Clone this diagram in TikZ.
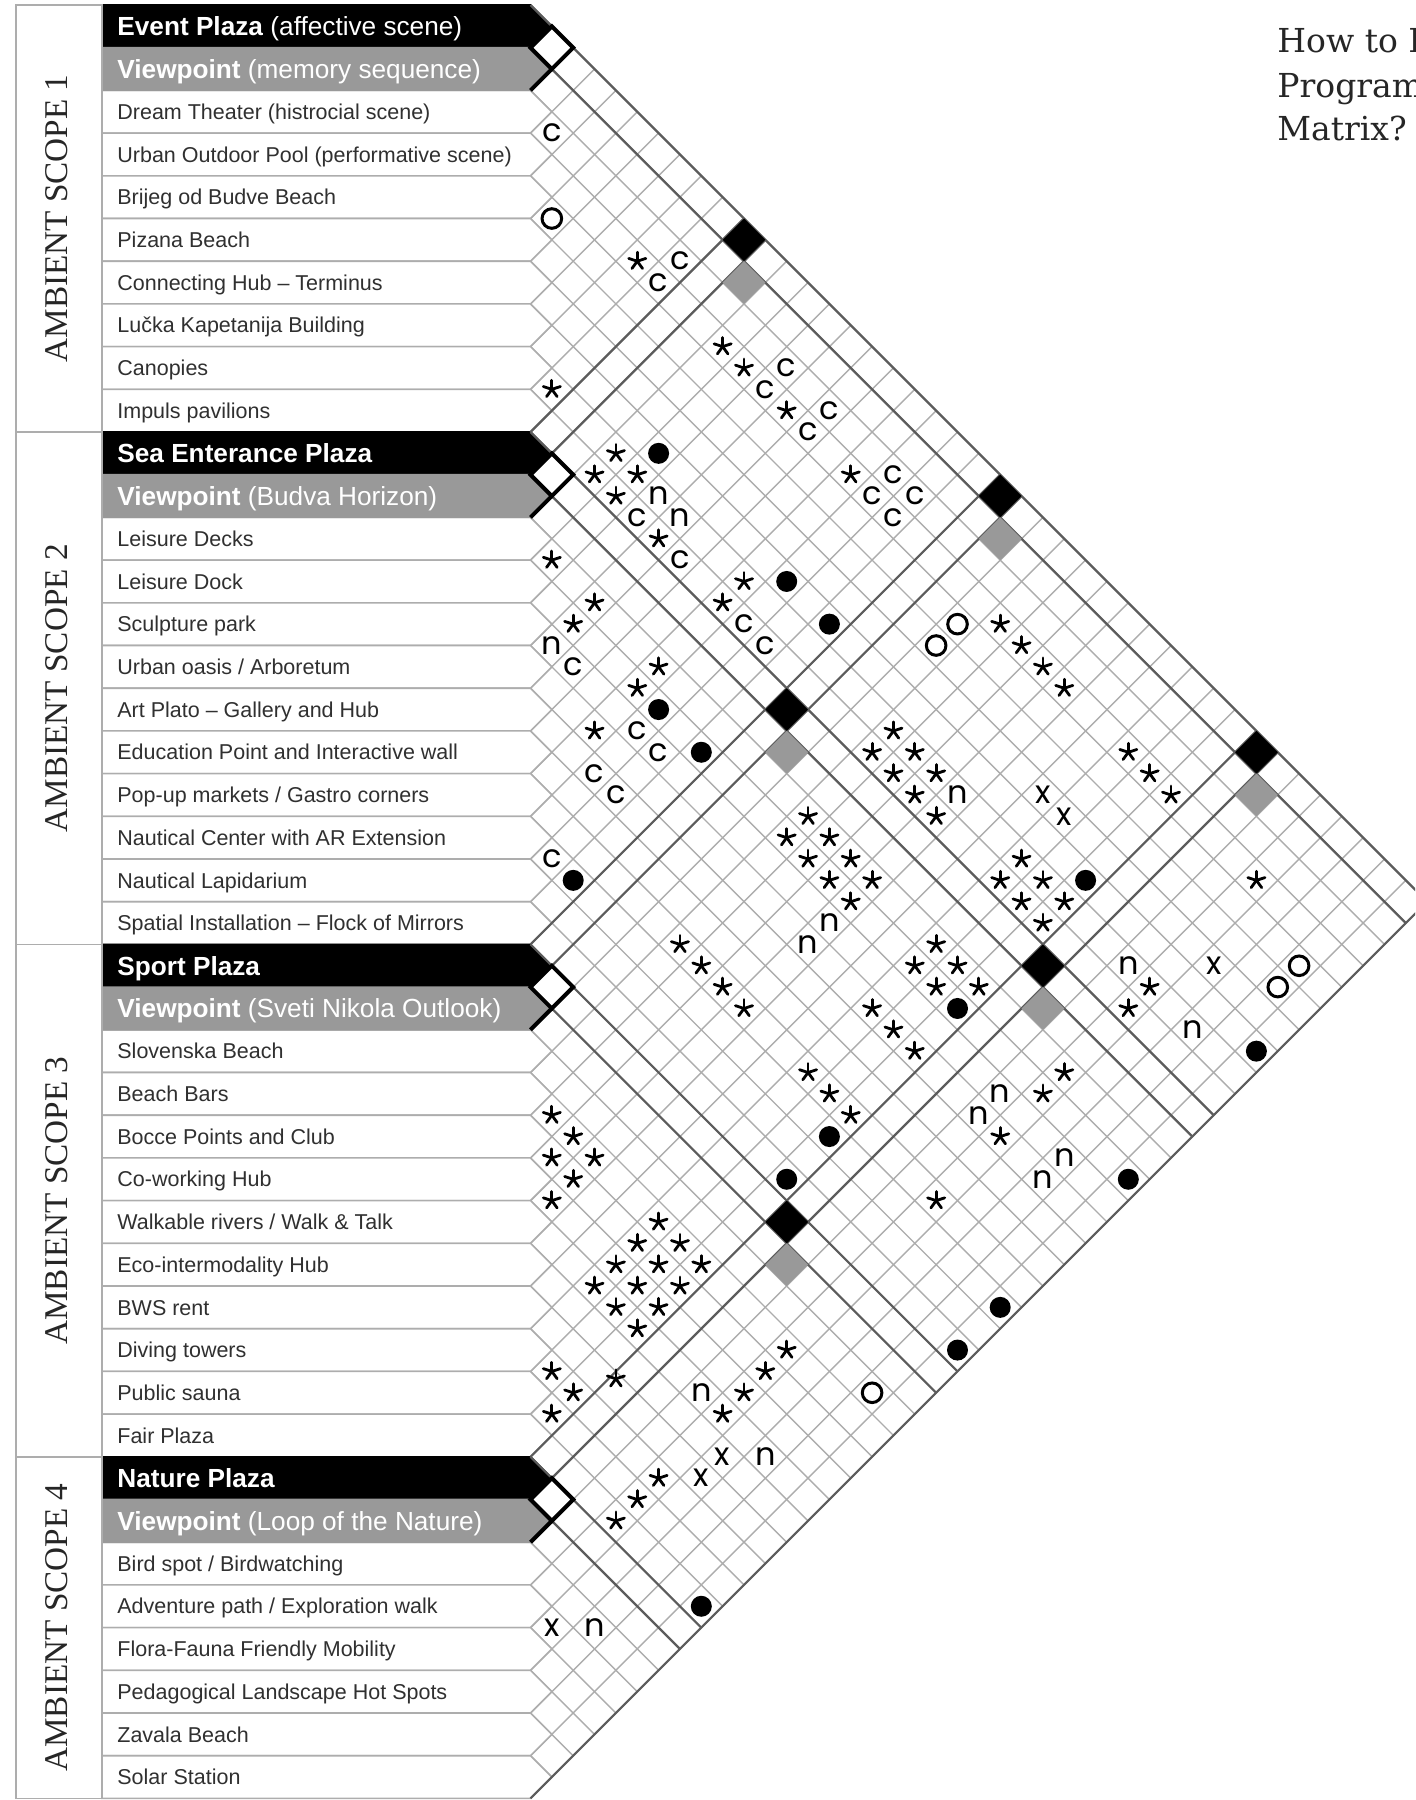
\documentclass[tikz,border=0pt]{standalone}
\usepackage{fontspec}
\setmainfont{Liberation Sans}
\newfontfamily\scopefont{Liberation Serif}
\newfontfamily\titlefont{DejaVu Serif}
\newfontfamily\symfont{Poppins}

\definecolor{linegray}{HTML}{ADADAD}
\definecolor{blockgray}{HTML}{5C5C5C}
\definecolor{viewgray}{HTML}{999999}
\definecolor{labelgray}{HTML}{303030}

\tikzset{
  gridline/.style={draw=linegray, line width=0.7pt},
  blockline/.style={draw=blockgray, line width=1.1pt},
  rowbox/.style={fill=white, draw=linegray, line width=0.8pt},
  plazabox/.style={fill=black, draw=black, line width=0.8pt},
  viewbox/.style={fill=viewgray, draw=viewgray, line width=0.8pt},
  scopebox/.style={draw=linegray, line width=0.8pt},
  rowlabel/.style={anchor=west, inner sep=0pt, text height=7.7pt, text depth=0pt,
    text=labelgray, font=\fontsize{10.75}{12}\selectfont},
  plazalabel/.style={anchor=west, inner sep=0pt, text height=9.4pt, text depth=0pt,
    text=white, font=\fontsize{13.1}{15}\selectfont},
  scopelabel/.style={rotate=90, inner sep=0pt, text=black!85,
    font=\scopefont\fontsize{16.6}{18}\selectfont},
  titleline/.style={anchor=base west, inner sep=0pt, text=black!85,
    font=\titlefont\fontsize{16.5}{20}\selectfont},
  symletter/.style={inner sep=0pt, font=\symfont\fontsize{16}{16}\selectfont},
  boldcell/.style={draw=black, line width=2pt},
  astar/.pic={\foreach \a in {270,342,54,126,198}
    \draw[line width=1.4pt, line cap=round] (0,0) -- (\a:9);},
}

\begin{document}
\begin{tikzpicture}[x=0.5pt, y=-0.5pt]
\useasboundingbox (0,0) rectangle (1415,1800);
\fill[white] (0,0) rectangle (1415,1800);
\clip (0,0) rectangle (1415,1800);

% anchors: notches, row tips, cell centres
\coordinate (sx) at (16,0);
\coordinate (lft) at (102,0);
\coordinate (lblx) at (117,0);
\foreach \b in {0,...,42}
  \coordinate (n\b) at (530.5,{5+42.7*\b});
\foreach \k in {1,...,42}
  \coordinate (t\k) at (551.85,{5+42.7*(\k-0.5)});
\foreach \i in {1,...,41} {
  \pgfmathtruncatemacro\jlo{\i+1}
  \foreach \j in {\jlo,...,42}
    \coordinate (c\i-\j) at ({530.5+(\j-\i)*21.35},{5+(\i+\j-1)*21.35});
}

% matrix grid
\foreach \b in {0,...,42} {
  \draw[gridline] (n\b) -- ++({(42-\b)*21.35},{(42-\b)*21.35});
  \draw[gridline] (n\b) -- ++({\b*21.35},{-\b*21.35});
}

% programme rows
\foreach \k/\lbl [evaluate=\k as \j using int(\k-1)] in {
  3/Dream Theater (histrocial scene),
  4/Urban Outdoor Pool (performative scene),
  5/Brijeg od Budve Beach,
  6/Pizana Beach,
  7/Connecting Hub – Terminus,
  8/Lučka Kapetanija Building,
  9/Canopies,
  10/Impuls pavilions,
  13/Leisure Decks,
  14/Leisure Dock,
  15/Sculpture park,
  16/{Urban oasis / Arboretum},
  17/Art Plato – Gallery and Hub,
  18/Education Point and Interactive wall,
  19/{Pop-up markets / Gastro corners},
  20/Nautical Center with AR Extension,
  21/Nautical Lapidarium,
  22/Spatial Installation – Flock of Mirrors,
  25/Slovenska Beach,
  26/Beach Bars,
  27/Bocce Points and Club,
  28/Co-working Hub,
  29/{Walkable rivers / Walk \& Talk},
  30/Eco-intermodality Hub,
  31/BWS rent,
  32/Diving towers,
  33/Public sauna,
  34/Fair Plaza,
  37/{Bird spot / Birdwatching},
  38/{Adventure path / Exploration walk},
  39/Flora-Fauna Friendly Mobility,
  40/Pedagogical Landscape Hot Spots,
  41/Zavala Beach,
  42/Solar Station} {
  \path[rowbox] (n\j -| lft) -- (n\j) -- (t\k) -- (n\k) -- (n\k -| lft) -- cycle;
  \node[rowlabel] (l\k) at (t\k -| lblx) {\lbl};
}

% plazas and viewpoints
\foreach \k/\sty/\lbl [evaluate=\k as \j using int(\k-1)] in {
  1/plazabox/{\textbf{Event Plaza} (affective scene)},
  2/viewbox/{\textbf{Viewpoint} (memory sequence)},
  11/plazabox/{\textbf{Sea Enterance Plaza}},
  12/viewbox/{\textbf{Viewpoint} (Budva Horizon)},
  23/plazabox/{\textbf{Sport Plaza}},
  24/viewbox/{\textbf{Viewpoint} (Sveti Nikola Outlook)},
  35/plazabox/{\textbf{Nature Plaza}},
  36/viewbox/{\textbf{Viewpoint} (Loop of the Nature)}} {
  \path[\sty] (n\j -| lft) -- (n\j) -- (t\k) -- (n\k) -- (n\k -| lft) -- cycle;
  \node[plazalabel] (l\k) at (t\k -| lblx) {\lbl};
}

% block borders
\foreach \b in {0,1,10,11,22,23,34,35,42} {
  \draw[blockline] (n\b) -- ++({(42-\b)*21.35},{(42-\b)*21.35});
  \draw[blockline] (n\b) -- ++({\b*21.35},{-\b*21.35});
}

% plaza / viewpoint links
\foreach \p in {1-11,1-23,1-35,11-23,11-35,23-35}
  \fill[black] (c\p) ++(-21.35,0) -- ++(21.35,-21.35) -- ++(21.35,21.35) -- ++(-21.35,21.35) -- cycle;
\foreach \p in {2-12,2-24,2-36,12-24,12-36,24-36}
  \fill[viewgray] (c\p) ++(-21.35,0) -- ++(21.35,-21.35) -- ++(21.35,21.35) -- ++(-21.35,21.35) -- cycle;
\foreach \i/\j in {1/2,11/12,23/24,35/36} {
  \filldraw[boldcell, fill=white] (c\i-\j) ++(-21.35,0) -- ++(21.35,-21.35) -- ++(21.35,21.35) -- ++(-21.35,21.35) -- cycle;
  \draw[boldcell] (n\j) -- (t\j);
}

% matrix marks
\foreach \p in {3-4,3-10,3-15,3-17,3-20,3-21,4-10,4-15,4-17,4-20,4-21,
  10-15,10-17,10-20,10-21,15-17,15-20,15-21,17-20,17-21,20-21}
  \node[symletter] (sym\p) at (c\p) {c};
\foreach \p in {9-15,9-16,15-16,9-29,15-29,16-29,9-37,15-37,16-37,29-37,
  9-40,15-40,16-40,29-40,37-40}
  \node[symletter] (sym\p) at (c\p) {n};
\foreach \p in {7-31,7-32,7-39,30-39,31-39,38-39}
  \node[symletter] (sym\p) at (c\p) {x};
\foreach \p in {5-6,5-25,6-25,5-41,6-41,25-41}
  \draw[line width=1.5pt] (c\p) circle [radius=9.8];
\foreach \p in {8-14,8-20,8-22,14-20,14-22,20-22,8-34,14-34,20-34,22-34,
  8-42,14-42,20-42,22-42,34-42}
  \fill (c\p) circle [radius=10.5];
\foreach \p in {4-9,4-13,4-14,4-16,4-19,4-26,4-27,4-28,4-29,4-32,4-33,4-34,4-38,
  9-10,9-13,9-14,9-19,9-26,9-27,9-28,9-32,9-33,9-34,9-38,
  10-13,10-14,10-16,10-19,10-26,10-27,10-28,10-29,10-32,10-33,10-34,10-38,
  13-14,13-16,13-19,13-26,13-27,13-28,13-29,13-32,13-33,13-34,13-38,
  14-16,14-19,14-26,14-27,14-28,14-29,14-32,14-33,14-38,
  16-19,16-32,16-33,16-34,16-38,
  19-26,19-27,19-28,19-29,19-32,19-33,19-34,19-38,
  26-27,26-28,26-29,26-32,26-33,26-34,26-38,
  27-28,27-29,27-32,27-33,27-34,27-38,
  28-29,28-32,28-33,28-34,28-38,
  29-32,29-33,29-34,29-38,
  32-33,32-34,32-38,33-34,33-38,34-38}
  \pic at (c\p) {astar};
\pic[yshift=7pt] at (c31-35) {astar};

% scopes
\foreach \s/\a/\b in {1/0/10,2/10/22,3/22/34,4/34/42} {
  \draw[scopebox] (n\a -| sx) rectangle (n\b -| lft);
  \node[scopelabel] (scope\s) at (57,{5+42.7*(\a+\b)/2}) {AMBIENT SCOPE \s};
}

% title (cut by the right edge, as in the source)
\node[titleline] (title1) at (1277,52) {How to Read};
\node[titleline] (title2) at (1277,97) {Program};
\node[titleline] (title3) at (1277,140) {Matrix?};
\end{tikzpicture}
\end{document}
